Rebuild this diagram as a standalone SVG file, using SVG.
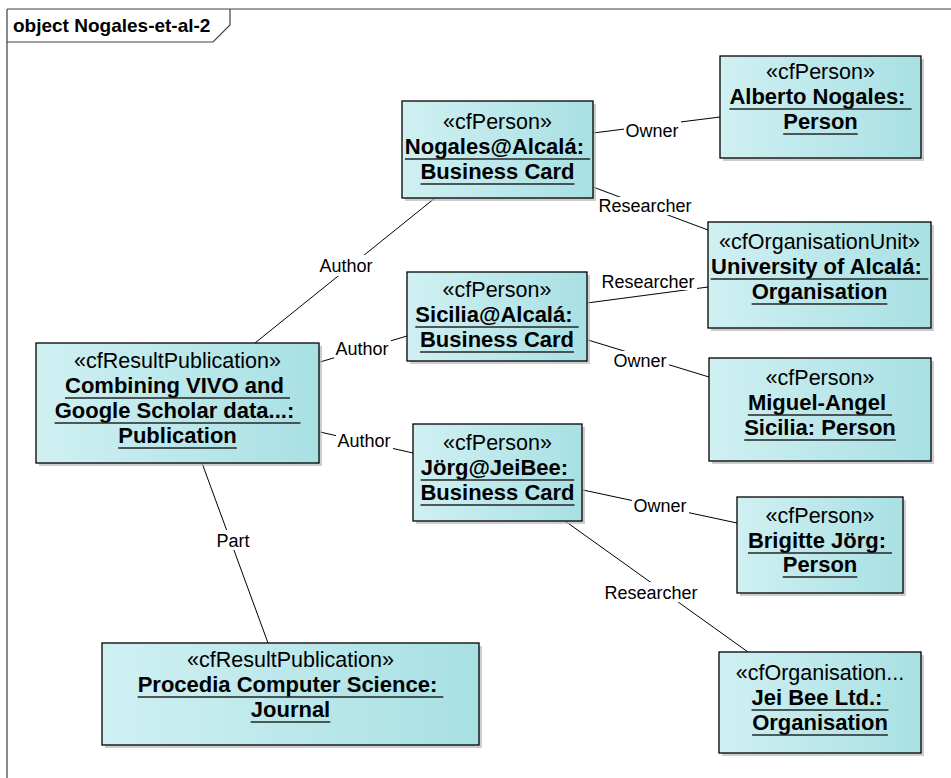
<svg xmlns="http://www.w3.org/2000/svg" width="951" height="778" viewBox="0 0 951 778">
<style>
.frame{fill:none;stroke:#404040;stroke-width:1.2}
.title{font-family:"Liberation Sans",Arial,sans-serif;font-weight:bold;font-size:19px;fill:#000}
.box{fill:url(#g);stroke:#000;stroke-width:1.3}
.sh{fill:#b8b8b8;opacity:0.7}
.st{font-family:"Liberation Sans",Arial,sans-serif;font-size:21.5px;fill:#000;text-anchor:middle}
.nm{font-family:"Liberation Sans",Arial,sans-serif;font-size:22px;font-weight:bold;fill:#000;text-anchor:middle}
.ul{stroke:#262626;stroke-width:1.3;fill:none}
.ln{stroke:#000;stroke-width:1;fill:none}
.lb{font-family:"Liberation Sans",Arial,sans-serif;font-size:18px;fill:#000;text-anchor:middle}
.lbg{fill:#fff}
</style>
<defs>
<linearGradient id="g" x1="0" y1="0" x2="1" y2="0">
<stop offset="0" stop-color="#d0f0f2"/>
<stop offset="1" stop-color="#a8e0e4"/>
</linearGradient>
</defs>
<rect width="951" height="778" fill="#fff"/>
<g id="frame">
<path class="frame" d="M7,9 H951 M7,9 V778"/>
<path class="frame" d="M7,42 H213 L230,25 V9"/>
<text class="title" x="13" y="32">object Nogales-et-al-2</text>
</g>
<g id="connectors">
<line class="ln" x1="593" y1="133" x2="720" y2="117"/>
<rect class="lbg" x="624" y="121" width="57" height="18"/>
<text class="lb" x="652" y="137">Owner</text>
<line class="ln" x1="593" y1="187" x2="708" y2="230"/>
<rect class="lbg" x="597" y="197" width="97" height="18"/>
<text class="lb" x="645" y="212">Researcher</text>
<line class="ln" x1="587" y1="303" x2="708" y2="287"/>
<rect class="lbg" x="600" y="273" width="97" height="17"/>
<text class="lb" x="648" y="288">Researcher</text>
<line class="ln" x1="588" y1="340" x2="709" y2="377"/>
<rect class="lbg" x="612" y="351" width="57" height="19"/>
<text class="lb" x="640" y="367">Owner</text>
<line class="ln" x1="255" y1="343" x2="435" y2="198"/>
<rect class="lbg" x="317" y="255" width="58" height="21"/>
<text class="lb" x="346" y="272">Author</text>
<line class="ln" x1="320" y1="362" x2="407" y2="336"/>
<rect class="lbg" x="334" y="339" width="57" height="19"/>
<text class="lb" x="362" y="355">Author</text>
<line class="ln" x1="320" y1="432" x2="413" y2="453"/>
<rect class="lbg" x="336" y="431" width="57" height="19"/>
<text class="lb" x="364" y="447">Author</text>
<line class="ln" x1="202" y1="463" x2="268" y2="643"/>
<rect class="lbg" x="215" y="530" width="37" height="20"/>
<text class="lb" x="233" y="547">Part</text>
<line class="ln" x1="583" y1="490" x2="737" y2="523"/>
<rect class="lbg" x="632" y="496" width="57" height="19"/>
<text class="lb" x="660" y="512">Owner</text>
<line class="ln" x1="565" y1="521" x2="748" y2="652"/>
<rect class="lbg" x="603" y="582" width="97" height="20"/>
<text class="lb" x="651" y="599">Researcher</text>
</g>
<g id="n-nogales">
<rect class="sh" x="405" y="104" width="191" height="97"/>
<rect class="box" x="402" y="101" width="191" height="97"/>
<text class="st" x="497.5" y="129">«cfPerson»</text>
<text class="nm" x="497.5" y="154" xml:space="preserve">Nogales@Alcalá: </text>
<text class="nm" x="497.5" y="179">Business Card</text>
<path class="ul" d="M404.9,159 H590.1 M420.5,184 H574.5"/>
</g>
<g id="n-alberto">
<rect class="sh" x="723" y="59" width="201" height="102"/>
<rect class="box" x="720" y="56" width="201" height="102"/>
<text class="st" x="820.5" y="79">«cfPerson»</text>
<text class="nm" x="820.5" y="104" xml:space="preserve">Alberto Nogales: </text>
<text class="nm" x="820.5" y="129">Person</text>
<path class="ul" d="M729.4,109 H911.6 M783.2,134 H857.8"/>
</g>
<g id="n-university">
<rect class="sh" x="711" y="225" width="223" height="106"/>
<rect class="box" x="708" y="222" width="223" height="106"/>
<text class="st" x="819.5" y="249">«cfOrganisationUnit»</text>
<text class="nm" x="819.5" y="274" xml:space="preserve">University of Alcalá: </text>
<text class="nm" x="819.5" y="299">Organisation</text>
<path class="ul" d="M710.7,279 H928.3 M751.6,304 H887.4"/>
</g>
<g id="n-sicilia">
<rect class="sh" x="410" y="275" width="180" height="89"/>
<rect class="box" x="407" y="272" width="180" height="89"/>
<text class="st" x="497" y="297">«cfPerson»</text>
<text class="nm" x="497" y="322" xml:space="preserve">Sicilia@Alcalá: </text>
<text class="nm" x="497" y="347">Business Card</text>
<path class="ul" d="M415.3,327 H578.7 M420,352 H574"/>
</g>
<g id="n-miguel">
<rect class="sh" x="712" y="361" width="222" height="103"/>
<rect class="box" x="709" y="358" width="222" height="103"/>
<text class="st" x="820" y="385">«cfPerson»</text>
<text class="nm" x="820" y="410" xml:space="preserve">Miguel-Angel </text>
<text class="nm" x="820" y="435">Sicilia: Person</text>
<path class="ul" d="M747.9,415 H892.1 M744.2,440 H895.8"/>
</g>
<g id="n-jorg">
<rect class="sh" x="416" y="427" width="169" height="97"/>
<rect class="box" x="413" y="424" width="169" height="97"/>
<text class="st" x="497.5" y="450">«cfPerson»</text>
<text class="nm" x="497.5" y="475" xml:space="preserve">Jörg@JeiBee: </text>
<text class="nm" x="497.5" y="500">Business Card</text>
<path class="ul" d="M420.7,480 H574.3 M420.5,505 H574.5"/>
</g>
<g id="n-brigitte">
<rect class="sh" x="740" y="500" width="166" height="96"/>
<rect class="box" x="737" y="497" width="166" height="96"/>
<text class="st" x="820" y="523">«cfPerson»</text>
<text class="nm" x="820" y="548" xml:space="preserve">Brigitte Jörg: </text>
<text class="nm" x="820" y="572">Person</text>
<path class="ul" d="M747.9,553 H892.1 M782.7,577 H857.3"/>
</g>
<g id="n-jeibee">
<rect class="sh" x="722" y="655" width="202" height="101"/>
<rect class="box" x="719" y="652" width="202" height="101"/>
<text class="st" x="820" y="680">«cfOrganisation...</text>
<text class="nm" x="820" y="705" xml:space="preserve">Jei Bee Ltd.: </text>
<text class="nm" x="820" y="730">Organisation</text>
<path class="ul" d="M751.5,710 H888.5 M752.1,735 H887.9"/>
</g>
<g id="n-combining">
<rect class="sh" x="39" y="346" width="283" height="120"/>
<rect class="box" x="36" y="343" width="283" height="120"/>
<text class="st" x="177.5" y="368">«cfResultPublication»</text>
<text class="nm" x="177.5" y="393" xml:space="preserve">Combining VIVO and </text>
<text class="nm" x="177.5" y="418" xml:space="preserve">Google Scholar data...: </text>
<text class="nm" x="177.5" y="443">Publication</text>
<path class="ul" d="M65,398 H290 M54.6,423 H300.4 M118.2,448 H236.8"/>
</g>
<g id="n-procedia">
<rect class="sh" x="105" y="646" width="377" height="102"/>
<rect class="box" x="102" y="643" width="377" height="102"/>
<text class="st" x="290.5" y="667">«cfResultPublication»</text>
<text class="nm" x="290.5" y="692" xml:space="preserve">Procedia Computer Science: </text>
<text class="nm" x="290.5" y="717">Journal</text>
<path class="ul" d="M137.7,697 H443.3 M250.7,722 H330.3"/>
</g>
</svg>
